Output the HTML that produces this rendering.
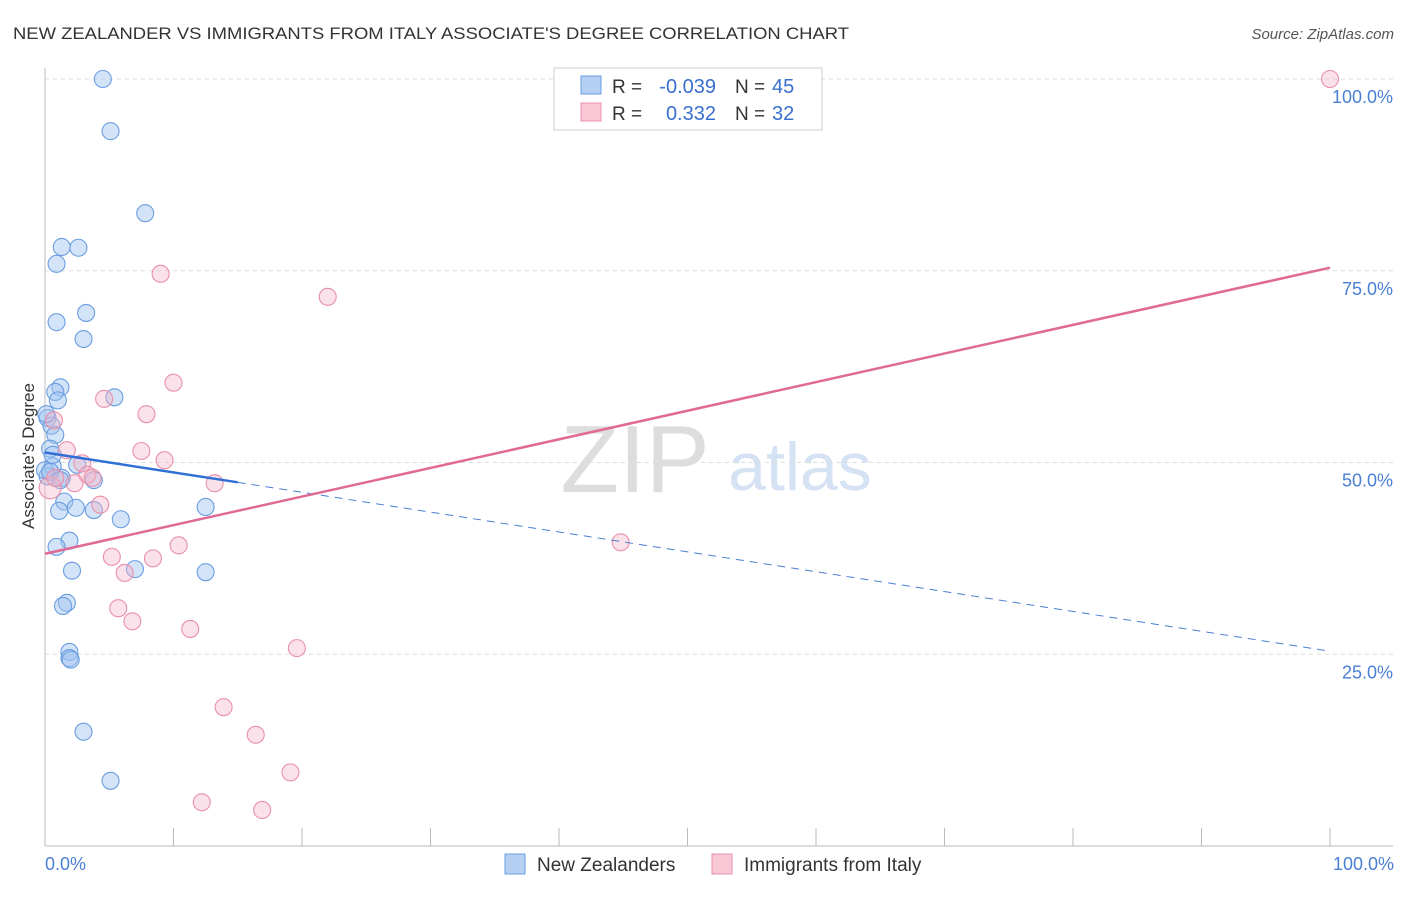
<!DOCTYPE html>
<html><head><meta charset="utf-8"><style>
body{margin:0;background:#fff;font-family:"Liberation Sans",sans-serif}
svg text{font-family:"Liberation Sans",sans-serif}
</style></head><body>
<svg id="c" width="1406" height="892">
<text x="13" y="39" font-size="17" fill="#333" textLength="836" lengthAdjust="spacingAndGlyphs">NEW ZEALANDER VS IMMIGRANTS FROM ITALY ASSOCIATE'S DEGREE CORRELATION CHART</text>
<text x="1394" y="39" font-size="15" fill="#555" font-style="italic" text-anchor="end">Source: ZipAtlas.com</text>
<text x="635" y="492" font-size="96" fill="#ddd" font-family="Liberation Serif" text-anchor="middle">ZIP</text>
<text x="800" y="490" font-size="68" fill="#d4e2f4" text-anchor="middle">atlas</text>
<g id="grid"></g><g id="axes"></g><g id="pts"></g><g id="lines"></g>
<text transform="translate(34,456) rotate(-90)" font-size="17" fill="#333" text-anchor="middle">Associate's Degree</text>
<text x="45" y="870" font-size="18" fill="#4a7fd4">0.0%</text>
<text x="1394" y="870" font-size="18" fill="#4a7fd4" text-anchor="end">100.0%</text>
<g>
<rect x="554" y="68" width="268" height="62" fill="#fff" stroke="#ccc"/>
<rect x="581" y="76" width="20" height="18" fill="#b6d0f4" stroke="#6a9de0"/>
<rect x="581" y="103" width="20" height="18" fill="#f9c7d5" stroke="#e890aa"/>
<text x="612" y="93" font-size="19" fill="#333">R =</text>
<text x="716" y="93" font-size="20" fill="#3a6fd0" text-anchor="end">-0.039</text>
<text x="735" y="93" font-size="19" fill="#333">N =</text>
<text x="772" y="93" font-size="20" fill="#3a6fd0">45</text>
<text x="612" y="120" font-size="19" fill="#333">R =</text>
<text x="716" y="120" font-size="20" fill="#3a6fd0" text-anchor="end">0.332</text>
<text x="735" y="120" font-size="19" fill="#333">N =</text>
<text x="772" y="120" font-size="20" fill="#3a6fd0">32</text>
</g>
<g><rect x="505" y="854" width="20" height="20" fill="#b6d0f4" stroke="#6a9de0"/><text x="537" y="871" font-size="19" fill="#333">New Zealanders</text></g>
<g><rect x="712" y="854" width="20" height="20" fill="#f9c7d5" stroke="#e890aa"/><text x="744" y="871" font-size="19" fill="#333">Immigrants from Italy</text></g>
</svg>
<script>
const blueX=[4.5,5.1,7.8,1.3,2.6,0.9,0.9,3.2,3.0,1.2,0.8,1.0,5.4,0.2,0.5,0.8,0.4,0.6,0.2,2.5,3.8,1.3,1.5,1.1,2.4,3.8,5.9,12.5,1.9,0.9,2.1,7.0,12.5,1.7,1.4,1.9,1.9,2.0,3.0,5.1,0,0.1,0.6,0.4,1.2];
const blueY=[100,93.2,82.5,78.1,78.0,75.9,68.3,69.5,66.1,59.8,59.2,58.1,58.5,55.8,54.8,53.6,51.8,49.5,48.2,49.7,47.7,48.0,44.9,43.7,44.1,43.8,42.6,44.2,39.8,39.0,35.9,36.1,35.7,31.7,31.3,25.3,24.5,24.3,14.9,8.5,49.0,56.3,51.0,48.8,47.7];
const pinkX=[100,9.0,22.0,10.0,4.6,7.9,0.7,1.7,7.5,9.3,2.9,3.3,3.7,13.2,2.3,0.4,4.3,44.8,10.4,5.2,8.4,6.2,5.7,6.8,11.3,19.6,13.9,16.4,19.1,12.2,16.9,0.8];
const pinkY=[100,74.6,71.6,60.4,58.3,56.3,55.5,51.6,51.5,50.3,49.9,48.4,48.0,47.3,47.3,46.7,44.5,39.6,39.2,37.7,37.5,35.6,31.0,29.3,28.3,25.8,18.1,14.5,9.6,5.7,4.7,48.0];
const yTicks=[25,50,75,100];
const blueFit=[51.3,-0.259];
const pinkFit=[38.1,0.373];
const NS="http://www.w3.org/2000/svg";
const sx=v=>45+v*12.85, sy=v=>846-v*7.67;
function mk(p,t,a){const e=document.createElementNS(NS,t);for(const k in a)e.setAttribute(k,a[k]);p.appendChild(e);return e;}
const grid=document.getElementById('grid'),axes=document.getElementById('axes'),pts=document.getElementById('pts'),lines=document.getElementById('lines');
yTicks.forEach(t=>{
 const l=mk(grid,'line',{x1:45,x2:1393,y1:sy(t),y2:sy(t),stroke:'#ddd','stroke-dasharray':'4,4'});
 
 
 const tx=mk(grid,'text',{x:1393,y:sy(t)+24,'font-size':18,fill:'#4a7fd4','text-anchor':'end'});
 tx.textContent=t.toFixed(1)+'%';
 
 
});
mk(axes,'line',{x1:45,x2:45,y1:68,y2:846,stroke:'#bbb'});
mk(axes,'line',{x1:45,x2:1393,y1:846,y2:846,stroke:'#bbb'});
for(let i=1;i<=10;i++){const t=mk(axes,'line',{x1:sx(i*10),x2:sx(i*10),y1:828,y2:846,stroke:'#bbb'});
 
 }
blueX.forEach((x,i)=>{const c=mk(pts,'circle',{cx:sx(x),cy:sy(blueY[i]),r:8.5,fill:'rgba(160,195,240,0.45)',stroke:'#6a9de0','stroke-width':1.1});
 
 });
pinkX.forEach((x,i)=>{const c=mk(pts,'circle',{cx:sx(x),cy:sy(pinkY[i]),r:i==15?11:8.5,fill:'rgba(245,180,200,0.4)',stroke:'#e890aa','stroke-width':1.1});
 
 });
const bf=x=>blueFit[0]+blueFit[1]*x, pf=x=>pinkFit[0]+pinkFit[1]*x;
const b1=mk(lines,'line',{x1:sx(0),y1:sy(bf(0)),x2:sx(15),y2:sy(bf(15)),stroke:'#2f6fd6','stroke-width':2.5});


const b2=mk(lines,'line',{x1:sx(15),y1:sy(bf(15)),x2:sx(100),y2:sy(bf(100)),stroke:'#4a7fd4','stroke-width':1,'stroke-dasharray':'8,6'});


const p1=mk(lines,'line',{x1:sx(0),y1:sy(pf(0)),x2:sx(100),y2:sy(pf(100)),stroke:'#e06a94','stroke-width':2.5});


</script>
</body></html>
